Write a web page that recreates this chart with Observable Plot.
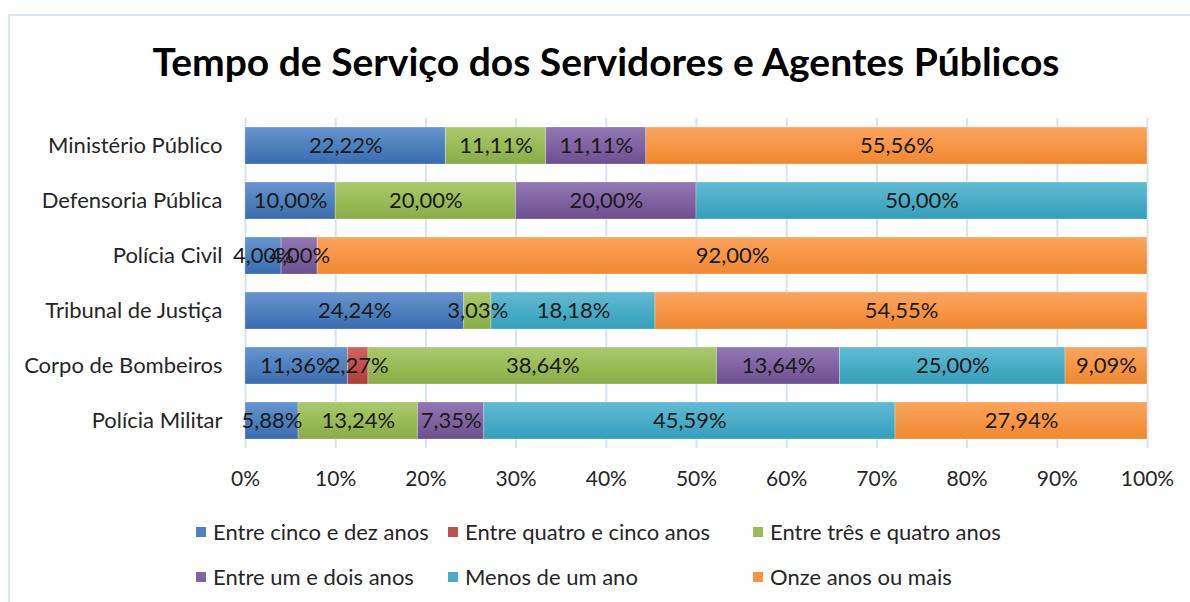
<!DOCTYPE html>
<html><head><meta charset="utf-8">
<script src="https://cdn.jsdelivr.net/npm/d3@7"></script>
<script src="https://cdn.jsdelivr.net/npm/@observablehq/plot@0.6"></script>
<style>
body{margin:0;background:#fff;font-family:Lato,sans-serif;}
#wrap{position:relative;width:1190px;height:602px;overflow:hidden;background:#fff;}
#frame{position:absolute;left:8px;top:14px;width:1300px;height:700px;border:2px solid #dae5f2;}
#title{position:absolute;left:0;width:1212px;top:36px;text-align:center;font-weight:700;font-size:39px;color:#000;line-height:50px;}
#chart{position:absolute;left:0;top:100px;}
.leg{position:absolute;display:flex;align-items:center;font-size:22px;color:#262626;white-space:nowrap;line-height:26px;}
.leg .sw{width:10px;height:10px;margin-right:7px;flex:none;}
</style>
</head><body>
<div id="wrap">
  <div id="frame"></div>
  <div id="title">Tempo de Serviço dos Servidores e Agentes Públicos</div>
  <div id="chart"></div>
  <div id="legend"></div>
</div>
<script>
const categories = ["Ministério Público","Defensoria Pública","Polícia Civil","Tribunal de Justiça","Corpo de Bombeiros","Polícia Militar"];
const series = ["Entre cinco e dez anos","Entre quatro e cinco anos","Entre três e quatro anos","Entre um e dois anos","Menos de um ano","Onze anos ou mais"];
const cincoDez    = [22.22, 10.00, 4.00, 24.24, 11.36, 5.88];
const quatroCinco = [0, 0, 0, 0, 2.27, 0];
const tresQuatro  = [11.11, 20.00, 0, 3.03, 38.64, 13.24];
const umDois      = [11.11, 20.00, 4.00, 0, 13.64, 7.35];
const menosUm     = [0, 50.00, 0, 18.18, 25.00, 45.59];
const onze        = [55.56, 0, 92.00, 54.55, 9.09, 27.94];
const xTicks = [0,10,20,30,40,50,60,70,80,90,100];
const baseColors = ["#4f81bd","#c0504d","#9bbb59","#8064a2","#4bacc6","#f79646"];
const topColors  = ["#6894d0","#d06461","#aac96e","#9179b4","#62bbd4","#fba55e"];
const botColors  = ["#3b6bb0","#b03c39","#89ac47","#6c4f8f","#33a0bb","#ee8830"];

const seriesValues = [cincoDez, quatroCinco, tresQuatro, umDois, menosUm, onze];
const table = [];
series.forEach((s, si) => {
  categories.forEach((c, ci) => {
    const v = seriesValues[si][ci];
    if (v > 0) table.push({cat: c, series: s, value: v});
  });
});
const fmt = v => v.toFixed(2).replace(".", ",") + "%";

const svg = Plot.plot({
  width: 1190, height: 400,
  marginTop: 18, marginBottom: 52, marginLeft: 245, marginRight: 43,
  style: {fontFamily: "Lato, sans-serif", fontSize: "21px", color: "#262626", background: "transparent", overflow: "visible"},
  x: {domain: [0, 100], label: null},
  y: {domain: categories, paddingInner: 0.33, paddingOuter: 0.165, label: null},
  color: {domain: series, range: series.map((s, i) => `url(#g${i})`)},
  marks: [
    Plot.ruleX(xTicks, {x: d => d, stroke: "#d6e3f2", strokeWidth: 2}),
    Plot.axisX({ticks: xTicks, tickFormat: d => d + "%", tickSize: 0, tickPadding: 23, fontSize: 21, label: null}),
    Plot.axisY({tickSize: 0, tickPadding: 23, fontSize: 22, label: null}),
    Plot.barX(table, Plot.stackX({x: "value", y: "cat", fill: "series", order: series, stroke: "#ffffff", strokeOpacity: 0.25, strokeWidth: 1})),
    Plot.text(table, Plot.stackX({x: "value", y: "cat", z: "series", order: series, text: d => fmt(d.value), fill: "#1a1a1a", fontSize: 22}))
  ]
});

const ns = "http://www.w3.org/2000/svg";
const defs = document.createElementNS(ns, "defs");
baseColors.forEach((c, i) => {
  const g = document.createElementNS(ns, "linearGradient");
  g.setAttribute("id", "g" + i);
  g.setAttribute("x1", "0"); g.setAttribute("y1", "0");
  g.setAttribute("x2", "0"); g.setAttribute("y2", "1");
  [[0, topColors[i]], [0.5, c], [1, botColors[i]]].forEach(([o, col]) => {
    const st = document.createElementNS(ns, "stop");
    st.setAttribute("offset", o);
    st.setAttribute("stop-color", col);
    g.appendChild(st);
  });
  defs.appendChild(g);
});
svg.insertBefore(defs, svg.firstChild);
document.getElementById("chart").appendChild(svg);

// legend
const legendPos = [[196, 532], [448, 532], [753, 532], [196, 577], [448, 577], [753, 577]];
const legend = document.getElementById("legend");
series.forEach((s, i) => {
  const d = document.createElement("div");
  d.className = "leg";
  d.style.left = legendPos[i][0] + "px";
  d.style.top = (legendPos[i][1] - 13) + "px";
  const sw = document.createElement("span");
  sw.className = "sw";
  sw.style.background = baseColors[i];
  const t = document.createElement("span");
  t.textContent = s;
  d.appendChild(sw); d.appendChild(t);
  legend.appendChild(d);
});
</script>
</body></html>
